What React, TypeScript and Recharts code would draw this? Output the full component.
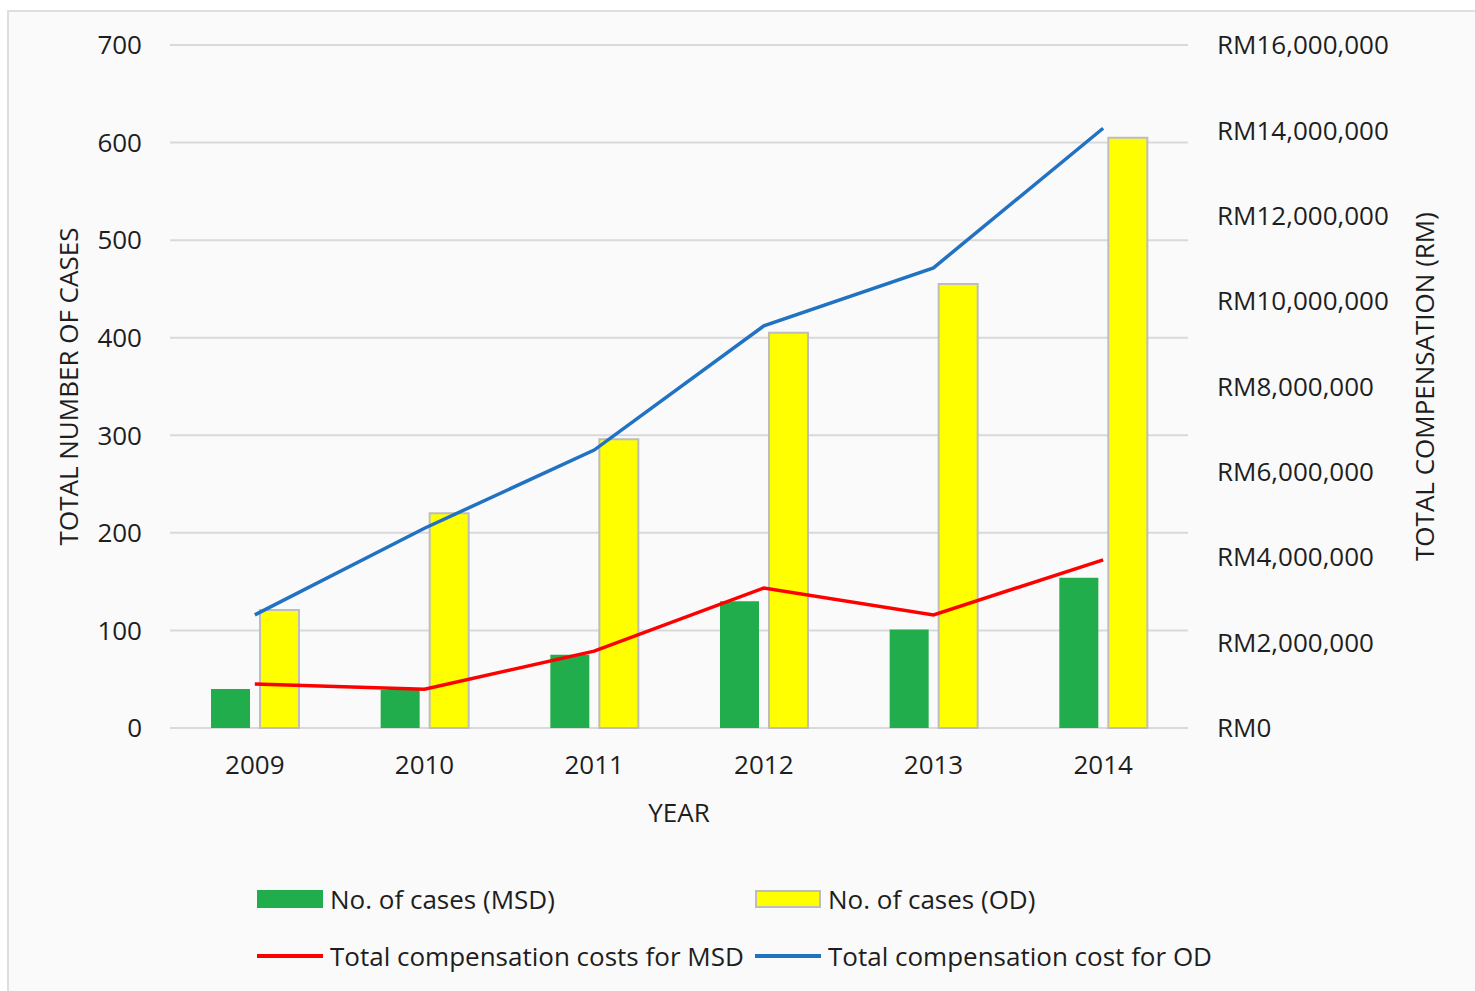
import { ComposedChart, Bar, Line, XAxis, YAxis, CartesianGrid, Legend, Label } from 'recharts';

const years = ['2009', '2010', '2011', '2012', '2013', '2014'];
const casesMSD = [40, 39, 75, 130, 101, 154];
const casesOD = [121, 220, 296, 405, 455, 605];
const costMSD = [1030000, 910000, 1800000, 3280000, 2650000, 3940000];
const costOD = [2650000, 4680000, 6510000, 9420000, 10780000, 14050000];

const leftTicks = [0, 100, 200, 300, 400, 500, 600, 700];
const rightTicks = [0, 2000000, 4000000, 6000000, 8000000, 10000000, 12000000, 14000000, 16000000];

const data = years.map((year, i) => ({
  year,
  msd: casesMSD[i],
  od: casesOD[i],
  costMsd: costMSD[i],
  costOd: costOD[i],
}));

const FONT = '"Open Sans", "Noto Sans", sans-serif';
const TEXT = '#1e1e1e';
const GREEN = '#21ad4b';
const YELLOW = '#ffff00';
const RED = '#ff0000';
const BLUE = '#2272c3';
const FS = 26;

const legendItems = [
  { label: 'No. of cases (MSD)', kind: 'box', color: GREEN, border: GREEN },
  { label: 'No. of cases (OD)', kind: 'box', color: YELLOW, border: '#bdbdbd' },
  { label: 'Total compensation costs for MSD', kind: 'line', color: RED },
  { label: 'Total compensation cost for OD', kind: 'line', color: BLUE },
];

const LegendBox = () => (
  <div style={{ display: 'flex', flexWrap: 'wrap', width: 1000, rowGap: 25, fontFamily: FONT, fontSize: FS, color: TEXT }}>
    {legendItems.map((it) => (
      <div key={it.label} style={{ width: 498, height: 32, display: 'flex', alignItems: 'center', whiteSpace: 'nowrap' }}>
        {it.kind === 'box' ? (
          <div style={{ width: 62, height: 14, background: it.color, border: `2px solid ${it.border}`, marginRight: 7 }} />
        ) : (
          <div style={{ width: 66, height: 4, background: it.color, marginRight: 7 }} />
        )}
        <span>{it.label}</span>
      </div>
    ))}
  </div>
);

const tickStyle = { fontSize: FS, fill: TEXT, fontFamily: FONT };

export default function App() {
  return (
    <div style={{ position: 'absolute', left: 7, top: 10, width: 1466, height: 979, border: '2px solid #dedede', background: '#fafafa' }}>
      <ComposedChart
        width={1466}
        height={979}
        data={data}
        margin={{ top: 33, right: 0, left: 0, bottom: 163 }}
        barSize={39}
        barGap={10}
      >
        <CartesianGrid yAxisId="left" vertical={false} stroke="#d9d9d9" strokeWidth={2} />
        <XAxis
          dataKey="year"
          height={100}
          tick={tickStyle}
          tickLine={false}
          axisLine={false}
          tickSize={0}
          tickMargin={28}
        >
          <Label
            content={({ viewBox }: any) => (
              <text x={viewBox.x + viewBox.width / 2} y={viewBox.y + 84} textAnchor="middle" dominantBaseline="central" fontSize={FS} fill={TEXT} fontFamily={FONT}>
                YEAR
              </text>
            )}
          />
        </XAxis>
        <YAxis
          yAxisId="left"
          width={161}
          domain={[0, 700]}
          ticks={leftTicks}
          tick={tickStyle}
          tickLine={false}
          axisLine={false}
          tickSize={0}
          tickMargin={28}
        >
          <Label
            content={({ viewBox }: any) => {
              const x = viewBox.x + 59;
              const y = viewBox.y + viewBox.height / 2;
              return (
                <text x={x} y={y} transform={`rotate(-90, ${x}, ${y})`} textAnchor="middle" dominantBaseline="central" fontSize={FS} fill={TEXT} fontFamily={FONT}>
                  TOTAL NUMBER OF CASES
                </text>
              );
            }}
          />
        </YAxis>
        <YAxis
          yAxisId="right"
          orientation="right"
          width={287}
          domain={[0, 16000000]}
          ticks={rightTicks}
          tick={tickStyle}
          tickLine={false}
          axisLine={false}
          tickSize={0}
          tickMargin={29}
          tickFormatter={(v: number) => `RM${v.toLocaleString('en-US')}`}
        >
          <Label
            content={({ viewBox }: any) => {
              const x = viewBox.x + 236;
              const y = viewBox.y + viewBox.height / 2;
              return (
                <text x={x} y={y} transform={`rotate(-90, ${x}, ${y})`} textAnchor="middle" dominantBaseline="central" fontSize={FS} fill={TEXT} fontFamily={FONT}>
                  TOTAL COMPENSATION (RM)
                </text>
              );
            }}
          />
        </YAxis>
        <Bar yAxisId="left" dataKey="msd" name="No. of cases (MSD)" fill={GREEN} isAnimationActive={false} />
        <Bar yAxisId="left" dataKey="od" name="No. of cases (OD)" fill={YELLOW} stroke="#bdbdbd" strokeWidth={2} isAnimationActive={false} />
        <Line yAxisId="right" type="linear" dataKey="costMsd" name="Total compensation costs for MSD" stroke={RED} strokeWidth={3.5} dot={false} activeDot={false} isAnimationActive={false} />
        <Line yAxisId="right" type="linear" dataKey="costOd" name="Total compensation cost for OD" stroke={BLUE} strokeWidth={3.5} dot={false} activeDot={false} isAnimationActive={false} />
        <Legend
          layout="horizontal"
          verticalAlign="middle"
          align="center"
          content={() => <LegendBox />}
          wrapperStyle={{ left: 248, top: 871, width: 1000, height: 90 }}
        />
      </ComposedChart>
    </div>
  );
}
